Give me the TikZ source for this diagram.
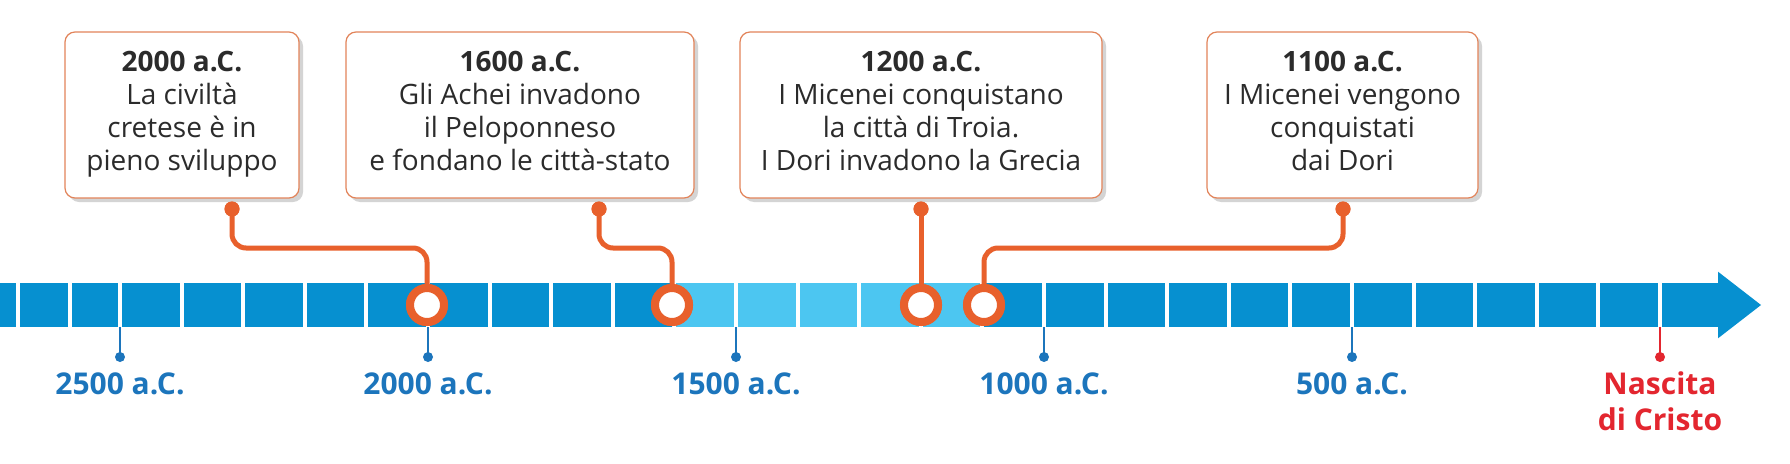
\documentclass[tikz,border=0pt]{standalone}
\usepackage{fontspec}
\setmainfont{Open Sans}
\definecolor{barblue}{HTML}{0690D0}
\definecolor{lightblue}{HTML}{4CC6F1}
\definecolor{orng}{HTML}{E8602C}
\definecolor{boxline}{HTML}{E2845A}
\definecolor{shadowgray}{HTML}{D4D4D4}
\definecolor{tickblue}{HTML}{1C75BC}
\definecolor{redlabel}{HTML}{E3262F}
\definecolor{txt}{HTML}{2B2B2B}
\begin{document}
\begin{tikzpicture}[x=1pt,y=-1pt,
  eventbox/.style={draw=boxline, line width=1.2pt, fill=white, rounded corners=10pt, minimum height=166pt, inner sep=0pt},
  shadowbox/.style={fill=shadowgray, rounded corners=10pt},
  conn/.style={draw=orng, line width=5pt, rounded corners=14pt},
  ring/.style={circle, draw=orng, line width=8pt, fill=white, minimum size=34pt, inner sep=0pt},
  pin/.style={circle, fill=orng, minimum size=15pt, inner sep=0pt},
  tickline/.style={line width=2.5pt},
  tickdot/.style={circle, minimum size=10pt, inner sep=0pt},
  datelabel/.style={font=\bfseries\fontsize{30}{36}\selectfont, text=tickblue, anchor=base, inner sep=0pt},
  boxtext/.style={align=center, text=txt, font=\fontsize{28}{33}\selectfont, anchor=north, inner sep=0pt},
  sep/.style={draw=white, line width=4pt}
]
\useasboundingbox (0,0) rectangle (1790,463);
\fill[white] (0,0) rectangle (1790,463);

% timeline bar
\fill[barblue] (0,283) rectangle (1718,327);
\fill[lightblue] (672,283) rectangle (984,327);
\fill[barblue] (1718,271.7) -- (1761,305) -- (1718,338.3) -- cycle;
\foreach \x in {18,70} \draw[sep] (\x,283) -- (\x,327);
\foreach \k in {0,...,25} \draw[sep] (120+61.6*\k,283) -- (120+61.6*\k,327);

% ticks and labels
\foreach \x/\t/\n in {120/2500/t1,428/2000/t2,736/1500/t3,1044/1000/t4,1352/500/t5}{
  \node[tickdot, fill=tickblue] (\n) at (\x,357) {};
  \draw[tickline, tickblue] (\x,327) -- (\n.center);
  \node[datelabel] (l\n) at (\x,394) {\t\ a.C.};
}
\node[tickdot, fill=redlabel] (t6) at (1660,357) {};
\draw[tickline, redlabel] (1660,327) -- (t6.center);
\node[font=\bfseries\fontsize{30}{36}\selectfont, text=redlabel, align=center, anchor=north, inner sep=0pt] (lt6) at (1660,372) {Nascita\\di Cristo};

% shadows
\fill[shadowbox] (69,36) rectangle (303,202);
\fill[shadowbox] (350,36) rectangle (698,202);
\fill[shadowbox] (744,36) rectangle (1106,202);
\fill[shadowbox] (1211,36) rectangle (1482,202);

% boxes
\node[eventbox, minimum width=234pt] (b1) at (182,115) {};
\node[eventbox, minimum width=348pt] (b2) at (520,115) {};
\node[eventbox, minimum width=362pt] (b3) at (921,115) {};
\node[eventbox, minimum width=271pt] (b4) at (1342.5,115) {};

\node[boxtext] (x1) at (182,51) {{\bfseries 2000 a.C.}\\La civiltà\\cretese è in\\pieno sviluppo};
\node[boxtext] (x2) at (520,51) {{\bfseries 1600 a.C.}\\Gli Achei invadono\\il Peloponneso\\e fondano le città-stato};
\node[boxtext] (x3) at (921,51) {{\bfseries 1200 a.C.}\\I Micenei conquistano\\la città di Troia.\\I Dori invadono la Grecia};
\node[boxtext] (x4) at (1342.5,51) {{\bfseries 1100 a.C.}\\I Micenei vengono\\conquistati\\dai Dori};

% pins and rings
\node[pin] (p1) at (232,209) {};
\node[pin] (p2) at (599,209) {};
\node[pin] (p3) at (921,209) {};
\node[pin] (p4) at (1343,209) {};
\node[ring] (r1) at (427,305) {};
\node[ring] (r2) at (672,305) {};
\node[ring] (r3) at (921,305) {};
\node[ring] (r4) at (984,305) {};

% connectors
\draw[conn] (p1.center) -- (p1.center |- 0,248) -- (r1.north |- 0,248) -- (r1.north);
\draw[conn] (p2.center) -- (p2.center |- 0,248) -- (r2.north |- 0,248) -- (r2.north);
\draw[conn] (p3.center) -- (r3.north);
\draw[conn] (p4.center) -- (p4.center |- 0,248) -- (r4.north |- 0,248) -- (r4.north);

% rings and pins on top
\node[ring] at (r1) {};
\node[ring] at (r2) {};
\node[ring] at (r3) {};
\node[ring] at (r4) {};
\node[pin] at (p1) {};
\node[pin] at (p2) {};
\node[pin] at (p3) {};
\node[pin] at (p4) {};
\end{tikzpicture}
\end{document}
